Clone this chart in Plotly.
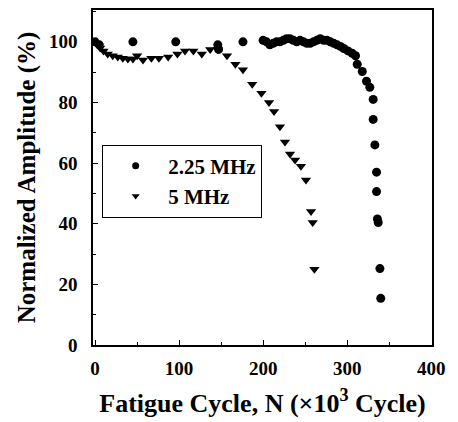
import plotly.graph_objects as go

# 2.25 MHz series (circles)
x_225 = [0, 5, 45, 96, 146, 147, 176, 200, 204, 208, 212, 216, 220, 224, 228, 232, 236,
         240, 244, 248, 252, 256, 260, 264, 268, 272, 276, 280, 284, 288, 292, 296, 301,
         306, 310, 312, 318, 323, 327, 331, 331, 333, 335, 335, 336, 337, 339, 340]
y_225 = [100, 99, 100, 100, 99, 97.5, 100, 100.5, 100, 99, 99.5, 100, 100, 100.5, 101, 101, 100.5,
         100, 100.5, 100, 99.5, 99.5, 100, 100.5, 101, 100.5, 100.5, 100, 99.5, 99, 98.5, 97.8, 97,
         96.2, 95.4, 92.6, 90.2, 87, 85, 81, 74.4, 66, 57, 50.6, 41.6, 40.4, 25.2, 15.4]

# 5 MHz series (triangles)
x_5 = [3, 6, 10, 15, 21, 27, 33, 39, 45, 50, 57, 67, 76, 87, 98, 107, 117, 127, 137, 146,
       157, 167, 176, 187, 198, 207, 213, 220, 226, 232, 238, 245, 251, 257, 259, 261]
y_5 = [99, 98, 97, 96, 95.4, 95, 94.6, 94.3, 94.3, 95.4, 94, 94.6, 94.6, 95, 96, 97, 97, 96, 97.5, 97.5,
       95.4, 92.6, 90.8, 86, 83, 80, 77, 72, 67, 63, 61, 59, 54.4, 44, 40.4, 25]

series_names = ["2.25 MHz", "5 MHz"]
x_ticks = [0, 100, 200, 300, 400]
y_ticks = [0, 20, 40, 60, 80, 100]

serif = "Liberation Serif"

fig = go.Figure()
fig.add_trace(go.Scatter(x=x_225, y=y_225, mode="markers", name=series_names[0], showlegend=False,
                         marker=dict(symbol="circle", size=9, color="black")))
fig.add_trace(go.Scatter(x=x_5, y=y_5, mode="markers", name=series_names[1], showlegend=False,
                         marker=dict(symbol="triangle-down", size=9, color="black")))
# legend entries (smaller symbols, as in the reference legend)
fig.add_trace(go.Scatter(x=[None], y=[None], mode="markers", name=series_names[0],
                         marker=dict(symbol="circle", size=7, color="black")))
fig.add_trace(go.Scatter(x=[None], y=[None], mode="markers", name=series_names[1],
                         marker=dict(symbol="triangle-down", size=7, color="black")))

axis_common = dict(showline=True, linecolor="black", linewidth=1.5, mirror=True,
                   ticks="inside", ticklen=5, tickcolor="black", showgrid=False, zeroline=False,
                   tickfont=dict(family=serif, size=19, color="black", weight="bold"))

fig.update_xaxes(range=[-2.5, 401], tickvals=x_ticks,
                 minor=dict(ticks="inside", ticklen=3, dtick=50, tickcolor="black"),
                 ticklabelstandoff=5,
                 title=dict(text="Fatigue Cycle, N (×10<sup>3</sup> Cycle)", standoff=16,
                            font=dict(family=serif, size=26, color="black", weight="bold")),
                 **axis_common)
fig.update_yaxes(range=[0, 110.5], tickvals=y_ticks,
                 minor=dict(ticks="inside", ticklen=3, dtick=10, tickcolor="black"),
                 ticklabelstandoff=10,
                 title=dict(text="Normalized Amplitude (%)", standoff=6,
                            font=dict(family=serif, size=25, color="black", weight="bold")),
                 **axis_common)

fig.update_layout(
    width=458, height=422,
    margin=dict(l=93, r=26, t=8, b=77),
    plot_bgcolor="white", paper_bgcolor="white",
    showlegend=True,
    legend=dict(x=0.027, y=0.598, xanchor="left", yanchor="top",
                bordercolor="black", borderwidth=1, bgcolor="white",
                itemwidth=55, tracegroupgap=0,
                font=dict(family=serif, size=21, color="black", weight="bold")),
)

fig.write_html("out.html")
